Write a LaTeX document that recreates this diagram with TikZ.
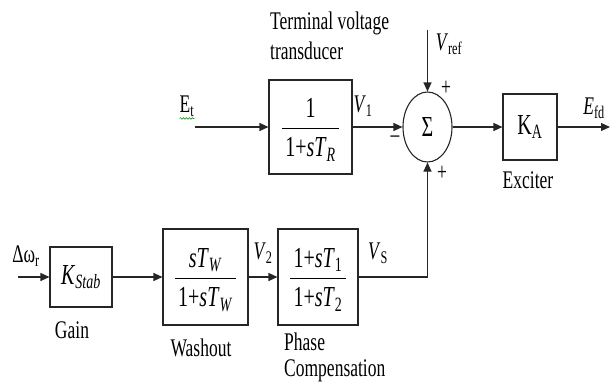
\documentclass[tikz,border=0pt]{standalone}
\usepackage{fontspec}
\setmainfont{Liberation Serif}
\usepackage{graphicx}
\usetikzlibrary{positioning,shapes.geometric,arrows.meta,decorations.pathmorphing}
% tall, narrow lettering as in the scanned figure
\newcommand{\hi}[1]{\scalebox{1}[1.45]{#1}}
\newcommand{\blkfrac}[2]{%
  {\setlength{\arrayrulewidth}{0.9pt}\renewcommand{\arraystretch}{1.0}%
  \begin{tabular}{@{\,}c@{\,}}\rule{0pt}{26pt}\hi{#1}\\[5pt]\hline\rule{0pt}{28pt}\hi{#2}\end{tabular}}}
\tikzset{
  blk/.style={draw=black!85,line width=1.1pt,inner sep=0pt,
              font=\fontsize{20}{20}\selectfont},
  sumj/.style={ellipse,draw=black!85,line width=1.1pt,inner sep=0pt,
               minimum width=49pt,minimum height=70pt,font=\fontsize{20}{22}\selectfont},
  sig/.style={draw=black!85,line width=1.1pt,-{Triangle[length=9pt,width=8pt]}},
  lbl/.style={inner sep=0pt,font=\fontsize{17.5}{20}\selectfont},
}

\begin{document}
\begin{tikzpicture}[x=1pt,y=-1pt]
  \useasboundingbox (0,0) rectangle (613,388);
  % forward path
  \node[blk,minimum width=83pt,minimum height=94pt] (trans) at (310.5,127)
        {\blkfrac{1}{1+\textit{sT}\textsubscript{\textit{R}}}};
  \node[sumj] (sum) at (427.5,127) {\hi{Σ}};
  \node[blk,minimum width=54pt,minimum height=66pt] (exc) at (530,127)
        {\hi{K\textsubscript{A}}};
  % stabiliser path
  \node[blk,minimum width=62pt,minimum height=60pt] (kst) at (81,277)
        {\hi{\textit{K}\textsubscript{\textit{Stab}}}};
  \node[blk,minimum width=85pt,minimum height=96pt] (wash) at (205.5,277)
        {\blkfrac{\textit{sT}\textsubscript{\textit{W}}}{1+\textit{sT}\textsubscript{\textit{W}}}};
  \node[blk,minimum width=80pt,minimum height=96pt] (phase) at (318,277)
        {\blkfrac{1+\textit{sT}\textsubscript{1}}{1+\textit{sT}\textsubscript{2}}};
  % free ends
  \coordinate (et) at (195,127);
  \coordinate (vref) at (427.5,30);
  \coordinate (efd) at (610,127);
  \coordinate (dw) at (18,277);
  \coordinate (vs) at (427.5,277);
  % signals
  \draw[sig] (et) -- (trans);
  \draw[sig] (trans) -- (sum);
  \draw[sig] (vref) -- (sum);
  \draw[sig] (sum) -- (exc);
  \draw[sig] (exc) -- (efd);
  \draw[sig] (dw) -- (kst);
  \draw[sig] (kst) -- (wash);
  \draw[sig] (wash) -- (phase);
  \draw[sig] (phase) -- (vs) -- (sum);
  % labels
  \node[lbl,align=left,anchor=west] (ttl) at (270,36)
        {\hi{Terminal voltage}\\[6pt]\hi{transducer}};
  \node[lbl] (etl) at (187,106) {\hi{E\textsubscript{t}}};
  \draw[green!60!black,line width=0.6pt,decorate,
        decoration={snake,amplitude=0.8pt,segment length=3pt}]
        ([yshift=-2pt]etl.south west) -- ([yshift=-2pt]etl.south east);
  \node[lbl] (v1l) at (363,106) {\hi{\textit{V}\textsubscript{1}}};
  \node[lbl] (vrefl) at (449,44) {\hi{\textit{V}\textsubscript{ref}}};
  \node[lbl] (plus1) at (446,88) {\hi{+}};
  \node[lbl] (minus) at (395,139) {\hi{–}};
  \node[lbl] (plus2) at (442,173) {\hi{+}};
  \node[lbl] (efdl) at (594,108) {\hi{\textit{E}\textsubscript{fd}}};
  \node[lbl] (excl) at (528,180) {\hi{Exciter}};
  \node[lbl] (dwl) at (26,256) {\hi{Δω\textsubscript{r}}};
  \node[lbl] (gainl) at (72,330) {\hi{Gain}};
  \node[lbl] (v2l) at (263,253) {\hi{\textit{V}\textsubscript{2}}};
  \node[lbl] (vsl) at (378,253) {\hi{\textit{V}\textsubscript{S}}};
  \node[lbl] (washl) at (201,348) {\hi{Washout}};
  \node[lbl,align=left,anchor=west] (phl) at (284,357)
        {\hi{Phase}\\[6pt]\hi{Compensation}};
\end{tikzpicture}
\end{document}
